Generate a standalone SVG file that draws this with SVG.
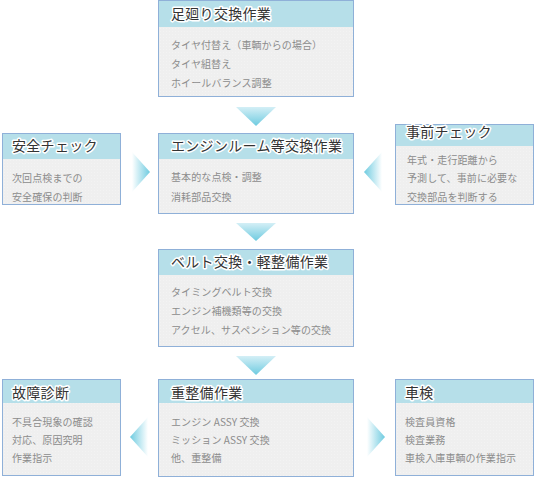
<svg xmlns="http://www.w3.org/2000/svg" width="534" height="478" viewBox="0 0 534 478">
<defs>
<linearGradient id="gDown" x1="0" y1="0" x2="0" y2="1">
<stop offset="0" stop-color="#d4eff6"/>
<stop offset="1" stop-color="#6ecbe0"/>
</linearGradient>
<linearGradient id="gRight" x1="0" y1="0" x2="1" y2="0">
<stop offset="0" stop-color="#ffffff"/>
<stop offset="1" stop-color="#6ecbe0"/>
</linearGradient>
<linearGradient id="gLeft" x1="1" y1="0" x2="0" y2="0">
<stop offset="0" stop-color="#ffffff"/>
<stop offset="1" stop-color="#6ecbe0"/>
</linearGradient>
<pattern id="dots" width="3" height="3" patternUnits="userSpaceOnUse">
<rect width="3" height="3" fill="#efefef"/>
<rect x="1" y="1" width="1" height="1" fill="#f3f3f3"/>
</pattern>
</defs>
<style>
.body{fill:url(#dots);stroke:#8fb0d8;stroke-width:1}
.head{fill:#b6dfe9}
.title{font-family:"Noto Sans CJK JP","Noto Sans",sans-serif;font-size:14px;fill:#333;stroke:#fff;stroke-width:3;stroke-linejoin:round;paint-order:stroke;letter-spacing:0.3px}
.txt{font-family:"Noto Sans CJK JP","Noto Sans",sans-serif;font-size:10px;fill:#8c8c8c;letter-spacing:0.1px}
</style>
<rect width="534" height="478" fill="#fff"/>
<g id="connectors">
<polygon points="236,107 276,107 256,126" fill="url(#gDown)"/>
<polygon points="236,223 276,223 256,241" fill="url(#gDown)"/>
<polygon points="236,356 276,356 256,375" fill="url(#gDown)"/>
<polygon points="132,152 150,172 132,192" fill="url(#gRight)"/>
<polygon points="382,152 364,172 382,192" fill="url(#gLeft)"/>
<polygon points="148,417 130,437 148,457" fill="url(#gLeft)"/>
<polygon points="367,417 385,437 367,457" fill="url(#gRight)"/>
</g>
<g id="n-ashimawari">
<rect class="body" x="158.5" y="0.5" width="195" height="96"/>
<rect class="head" x="159" y="1" width="194" height="26"/>
<text class="title" x="171" y="19">足廻り交換作業</text>
<text class="txt" x="171" y="49">タイヤ付替え（車輌からの場合）</text>
<text class="txt" x="171" y="68">タイヤ組替え</text>
<text class="txt" x="171" y="87">ホイールバランス調整</text>
</g>
<g id="n-anzen">
<rect class="body" x="2.5" y="133.5" width="118" height="71"/>
<rect class="head" x="3" y="134" width="117" height="25"/>
<text class="title" x="12" y="151">安全チェック</text>
<text class="txt" x="12" y="182">次回点検までの</text>
<text class="txt" x="12" y="201">安全確保の判断</text>
</g>
<g id="n-engine">
<rect class="body" x="158.5" y="133.5" width="195" height="80"/>
<rect class="head" x="159" y="134" width="194" height="25"/>
<text class="title" x="171" y="151">エンジンルーム等交換作業</text>
<text class="txt" x="171" y="181">基本的な点検・調整</text>
<text class="txt" x="171" y="201">消耗部品交換</text>
</g>
<g id="n-jizen">
<rect class="body" x="395.5" y="124.5" width="138" height="80"/>
<rect class="head" x="396" y="125" width="137" height="21"/>
<text class="title" x="406" y="137">事前チェック</text>
<text class="txt" x="407" y="164">年式・走行距離から</text>
<text class="txt" x="407" y="182">予測して、事前に必要な</text>
<text class="txt" x="407" y="201">交換部品を判断する</text>
</g>
<g id="n-belt">
<rect class="body" x="158.5" y="249.5" width="195" height="97"/>
<rect class="head" x="159" y="250" width="194" height="25"/>
<text class="title" x="171" y="267">ベルト交換・軽整備作業</text>
<text class="txt" x="171" y="296">タイミングベルト交換</text>
<text class="txt" x="171" y="315">エンジン補機類等の交換</text>
<text class="txt" x="171" y="334">アクセル、サスペンション等の交換</text>
</g>
<g id="n-koshou">
<rect class="body" x="2.5" y="379.5" width="118" height="96"/>
<rect class="head" x="3" y="380" width="117" height="23"/>
<text class="title" x="12" y="398">故障診断</text>
<text class="txt" x="12" y="426">不具合現象の確認</text>
<text class="txt" x="12" y="444">対応、原因究明</text>
<text class="txt" x="12" y="462">作業指示</text>
</g>
<g id="n-juseibi">
<rect class="body" x="158.5" y="379.5" width="195" height="97"/>
<rect class="head" x="159" y="380" width="194" height="23"/>
<text class="title" x="171" y="398">重整備作業</text>
<text class="txt" x="171" y="426">エンジン ASSY 交換</text>
<text class="txt" x="171" y="444">ミッション ASSY 交換</text>
<text class="txt" x="171" y="462">他、重整備</text>
</g>
<g id="n-shaken">
<rect class="body" x="395.5" y="379.5" width="138" height="96"/>
<rect class="head" x="396" y="380" width="137" height="23"/>
<text class="title" x="405" y="398">車検</text>
<text class="txt" x="405" y="426">検査員資格</text>
<text class="txt" x="405" y="444">検査業務</text>
<text class="txt" x="405" y="462">車検入庫車輌の作業指示</text>
</g>
</svg>
